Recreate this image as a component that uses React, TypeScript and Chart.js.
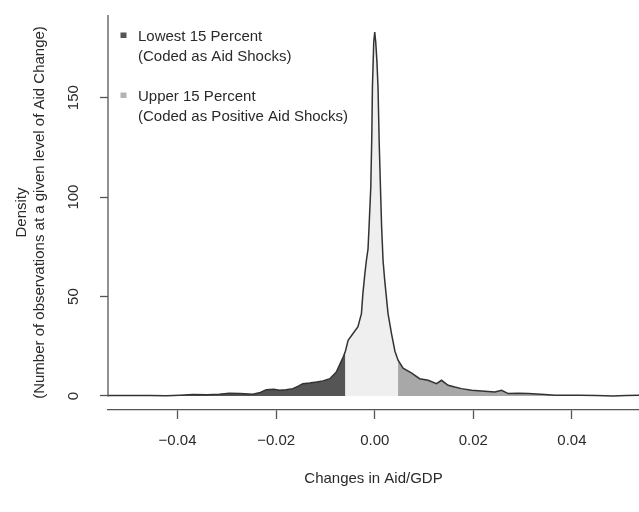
import React, { useEffect, useRef } from 'react';
import { Chart, registerables } from 'chart.js';

Chart.register(...registerables);

// density of year-on-year changes in aid/GDP
const densityX = [
  -0.0541, -0.0491, -0.0455, -0.0423, -0.0395, -0.0369, -0.034, -0.0315, -0.0295, -0.0274,
  -0.0247, -0.0232, -0.022, -0.0205, -0.0193, -0.018, -0.0166, -0.0155, -0.0146, -0.0132,
  -0.0118, -0.0105, -0.0091, -0.0078, -0.0064, -0.00595, -0.0054, -0.0044, -0.0034, -0.0027,
  -0.0024, -0.002, -0.0017, -0.00136, -0.0011, -0.0008, -0.0006, -0.00047, -0.0002, 0,
  0.0002, 0.00045, 0.00067, 0.0009, 0.00116, 0.0014, 0.00169, 0.00203, 0.0027, 0.0034,
  0.0041, 0.00473, 0.00575, 0.0075, 0.0091, 0.01082, 0.01253, 0.01354, 0.01488, 0.01624,
  0.0176, 0.01963, 0.02167, 0.02437, 0.02573, 0.02707, 0.0291, 0.03113, 0.03452, 0.03655,
  0.0416, 0.045, 0.0483, 0.051, 0.054,
];
const densityY = [
  0.3, 0.3, 0.2, 0.1, 0.4, 0.7, 0.6, 0.9, 1.4, 1.2,
  0.9, 1.8, 3.2, 3.4, 2.9, 3.1, 3.7, 5.0, 6.2, 6.5,
  7.0, 7.6, 8.7, 12, 19.6, 22.5, 28, 31.4, 34.8, 41.4,
  51.5, 61.5, 68, 74, 88, 105, 130, 155, 178, 183,
  178, 168, 155, 128, 105, 85, 68, 58, 41.4, 31.4,
  22.5, 18, 14, 11.5, 8.7, 7.9, 6.2, 7.9, 5.4, 4.5,
  3.7, 2.9, 2.5, 2.0, 2.9, 1.2, 1.4, 1.2, 0.7, 0.4,
  0.4, 0.2, 0.0, 0.2, 0.4,
];

// cut points for the lowest and upper 15 percent
const lowCut = -0.00595;
const highCut = 0.00473;

const xTicks = [-0.04, -0.02, 0, 0.02, 0.04];
const xTickLabels = ['\u22120.04', '\u22120.02', '0.00', '0.02', '0.04'];
const yTicks = [0, 50, 100, 150];
const yTickLabels = ['0', '50', '100', '150'];

const legendTitles = ['Lowest 15 Percent', 'Upper 15 Percent'];
const legendNotes = ['(Coded as Aid Shocks)', '(Coded as Positive Aid Shocks)'];

const FONT = '"Liberation Sans", Arial, Helvetica, sans-serif';
const TEXT = '#2a2a2a';
const AXIS = '#555555';
const LOW_FILL = '#555555';
const MID_FILL = '#efefef';
const HIGH_FILL = '#a8a8a8';

const legendPlugin = {
  id: 'shockLegend',
  afterDraw(chart: Chart) {
    const ctx = chart.ctx;
    const swatches = [LOW_FILL, '#b3b3b3'];
    ctx.save();
    ctx.font = `15px ${FONT}`;
    ctx.textBaseline = 'middle';
    ctx.textAlign = 'left';
    legendTitles.forEach((title, i) => {
      const y = 37 + i * 60;
      ctx.fillStyle = swatches[i];
      ctx.fillRect(120.5, y - 4.5, 6, 5.5);
      ctx.fillStyle = TEXT;
      ctx.fillText(title, 138, y);
      ctx.fillText(legendNotes[i], 138, y + 19.5);
    });
    ctx.restore();
  },
};

// R-style y axis line: runs from 0 up to the top of the plot
const yAxisLinePlugin = {
  id: 'yAxisLine',
  afterDraw(chart: Chart) {
    const { ctx, chartArea, scales } = chart;
    const y0 = scales.y.getPixelForValue(0);
    ctx.save();
    ctx.strokeStyle = AXIS;
    ctx.lineWidth = 1.3;
    ctx.beginPath();
    ctx.moveTo(chartArea.left, y0 + 0.6);
    ctx.lineTo(chartArea.left, chartArea.top);
    ctx.stroke();
    ctx.restore();
  },
};

const DensityChart: React.FC = () => {
  const chartRef = useRef<HTMLCanvasElement>(null);

  useEffect(() => {
    if (!chartRef.current) return;

    const points = densityX.map((x, i) => ({ x, y: densityY[i] }));
    const lowPts = points.filter((p) => p.x <= lowCut);
    const midPts = points.filter((p) => p.x >= lowCut && p.x <= highCut);
    const highPts = points.filter((p) => p.x >= highCut);

    const fillSet = (data: { x: number; y: number }[], color: string) => ({
      data,
      backgroundColor: color,
      borderWidth: 0,
      pointRadius: 0,
      tension: 0,
      fill: 'origin',
      order: 1,
    });

    const chartInstance = new Chart(chartRef.current, {
      type: 'line',
      data: {
        datasets: [
          {
            data: points,
            borderColor: '#333333',
            borderWidth: 1.5,
            pointRadius: 0,
            tension: 0,
            fill: false,
            order: 0,
          },
          fillSet(lowPts, LOW_FILL),
          fillSet(midPts, MID_FILL),
          fillSet(highPts, HIGH_FILL),
        ] as any,
      },
      options: {
        responsive: false,
        animation: false,
        layout: { padding: { top: 15, left: 0, right: 0, bottom: 0 } },
        plugins: {
          legend: { display: false },
          tooltip: { enabled: false },
        },
        scales: {
          x: {
            type: 'linear',
            min: -0.0541,
            max: 0.0536,
            afterBuildTicks: (scale) => {
              scale.ticks = xTicks.map((value) => ({ value }));
            },
            afterFit: (scale: any) => {
              scale.height = 102;
              scale.paddingLeft = 0;
              scale.paddingRight = 0;
            },
            grid: {
              drawOnChartArea: false,
              drawTicks: true,
              tickLength: 9,
              tickColor: AXIS,
              tickWidth: 1.3,
            },
            border: { display: true, color: AXIS, width: 1.3 },
            ticks: {
              padding: 13,
              color: TEXT,
              maxRotation: 0,
              font: { family: FONT, size: 15 },
              callback: (_value, index) => xTickLabels[index],
            },
            title: {
              display: true,
              text: 'Changes in Aid/GDP',
              color: TEXT,
              font: { family: FONT, size: 15 },
              padding: { top: 0, bottom: 24 },
            },
          },
          y: {
            type: 'linear',
            min: -7.04,
            max: 191.55,
            afterBuildTicks: (scale) => {
              scale.ticks = yTicks.map((value) => ({ value }));
            },
            afterFit: (scale: any) => {
              scale.width = 108;
              scale.paddingTop = 0;
              scale.paddingBottom = 0;
            },
            grid: {
              drawOnChartArea: false,
              drawTicks: true,
              tickLength: 8,
              tickColor: AXIS,
              tickWidth: 1.3,
            },
            border: { display: false },
            ticks: {
              padding: 14,
              color: TEXT,
              minRotation: 90,
              maxRotation: 90,
              crossAlign: 'center',
              font: { family: FONT, size: 15 },
              callback: (_value, index) => yTickLabels[index],
            },
            title: {
              display: true,
              text: ['Density', '(Number of observations at a given level of Aid Change)'],
              color: TEXT,
              font: { family: FONT, size: 15, lineHeight: 1.2 },
              padding: { top: 13, bottom: 0 },
            },
          },
        },
      },
      plugins: [legendPlugin, yAxisLinePlugin],
    });

    return () => {
      chartInstance.destroy();
    };
  }, []);

  return <canvas ref={chartRef} width={639} height={512} style={{ display: 'block' }}></canvas>;
};

export default function App() {
  useEffect(() => {
    document.body.style.margin = '0';
  }, []);

  return (
    <div style={{ width: 639, height: 512, background: '#ffffff' }}>
      <DensityChart />
    </div>
  );
}
